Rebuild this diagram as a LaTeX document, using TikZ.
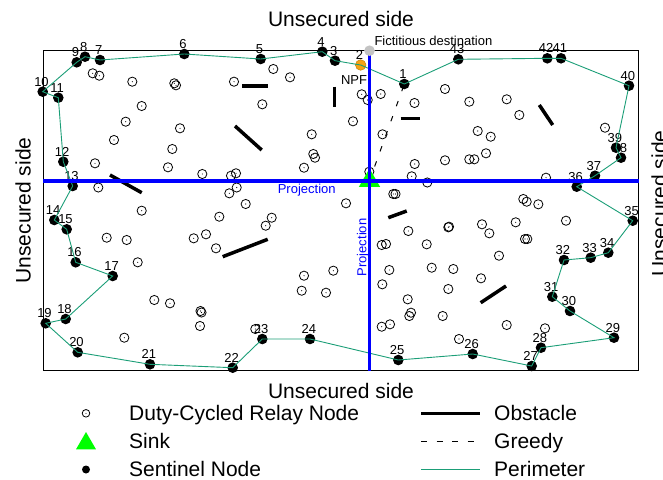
\documentclass[tikz,border=0pt]{standalone}
\usepackage{fontspec}
\setmainfont{Liberation Sans}
\usetikzlibrary{shapes.geometric}
\definecolor{perimcol}{RGB}{27,158,119}
\definecolor{npfcol}{RGB}{245,162,20}
\definecolor{fictcol}{RGB}{195,195,195}
\definecolor{sinkcol}{RGB}{0,255,0}
\begin{document}
\begin{tikzpicture}[x=1pt,y=-1pt,
  relay/.style={circle,draw,line width=0.8pt,minimum size=9.2pt,inner sep=0pt,
    path picture={\fill (path picture bounding box.center) circle[radius=0.55pt];}},
  sent/.style={circle,fill=black,minimum size=10.6pt,inner sep=0pt},
  num/.style={font=\fontsize{13}{15}\selectfont,inner sep=0pt},
  big/.style={font=\fontsize{21}{25}\selectfont,inner sep=0pt},
  small/.style={font=\fontsize{13}{15}\selectfont,inner sep=0pt},
  obst/.style={line width=3.5pt},
  perimline/.style={draw=perimcol,line width=0.9pt},
  greedyline/.style={line width=1pt,dash pattern=on 5.5pt off 10.5pt},
  proj/.style={draw=blue,line width=3.5pt},
  sinkshape/.style={regular polygon,regular polygon sides=3,fill=sinkcol,minimum size=24.6pt,inner sep=0pt}]
\useasboundingbox (0,0) rectangle (663,479);
% frame
\draw[line width=1.2pt] (43.3,50.7) rectangle (638.7,370.6);
% relay nodes
\foreach \x/\y [count=\i] in {92.7/73.3, 99.3/75.7, 132.3/81.7, 174.3/83.3, 176/85.3, 234/81.7, 273.3/69, 290/77.3, 262.3/104.3, 141.7/106, 125.7/121.7, 180/128.3, 114/140, 172.3/149, 311.7/134.3, 313.3/154, 315/157.7, 95/163.3, 168/167.3, 202.3/174, 231/175.7, 236/173.3, 304/167.7, 353/121.3, 98.3/187.5, 236.7/187.5,
229.3/193.3, 245.7/204, 219.3/216.7, 193.7/238.3, 206/234.3, 216/248.3, 265.7/225.7, 271.7/217.7, 141.7/210.7, 106.7/237.7, 126.7/240, 137.7/262.3, 154.3/300, 170/303.3, 200.5/311, 201.5/312.5, 200/326, 124.3/337.7, 255.3/329, 304/275.7, 333.3/270.7, 301.7/290.7, 326/292.7, 346/203.3,
361.7/94.3, 367.7/100, 380.7/94, 382.5/134.3, 414.5/103, 445/89, 469.3/101.7, 506.7/99.3, 519.3/115, 477.7/131, 490.7/136.7, 445/160.3, 469.3/159.3, 474.3/159.3, 486/153.3, 414.7/164, 411.7/176.3, 427.3/182.5, 546/177.7, 605/127.7, 369.3/171.7,
393.3/194, 395.5/194, 523.3/199, 526.7/201.7, 538.3/204.3, 566/220.7, 515.7/222.3, 482/224.3, 489.3/233.3, 448.3/227.3, 449/226.7, 408.3/231, 426.7/244.3, 381.7/245, 386/244, 525/239, 527.3/239, 499/255.7, 389.3/270, 431.7/267.7, 453.3/269, 481/278.3, 382.3/284.3, 448.3/289, 407.7/299.3, 411/312.7, 409.3/316, 442.7/316, 381.7/326.7, 390/324.3, 506.7/325, 545/328.3, 459/339}
  \node[relay] (r\i) at (\x,\y) {};
% obstacles
\draw[obst] (242.3,86) -- (268.3,86);
\draw[obst] (334.3,86.7) -- (334.3,107.3);
\draw[obst] (235,126) -- (261.7,150);
\draw[obst] (400.7,118.3) -- (420,118.3);
\draw[obst] (539.3,105) -- (552.7,125);
\draw[obst] (110,175) -- (141.7,192.7);
\draw[obst] (222.7,256.7) -- (267.7,239.3);
\draw[obst] (388.3,217.7) -- (406.7,211);
\draw[obst] (480.7,302.7) -- (506,286);
% sentinel nodes
\node[num] (l1) at (403.1,74) {1};
\node[sent] (s1) at (404.3,84) {};
\node[num] (l2) at (359.5,55) {2};
\node[circle,fill=npfcol,draw=npfcol!80!black,line width=0.5pt,minimum size=10.6pt,inner sep=0pt] (s2) at (360.7,65) {};
\foreach \n/\x/\y in {3/335/60.7, 4/322.3/51.7, 5/260.7/59, 6/184.3/54, 7/100/60, 8/85/56.7, 9/76.7/62.3, 10/42.7/91.7, 11/58.3/97.7, 12/63.3/161.7, 13/72.7/186, 14/54.3/220, 15/66.7/229.3, 16/75.7/262.3, 17/112.7/276, 18/65.7/319, 19/45.7/323.3, 20/77.7/352.3, 21/150/364.3, 22/232.7/367.7, 23/262.3/339, 24/310/339, 25/398.3/360, 26/472.7/354, 27/531.7/366, 28/541/347.7, 29/614/337.7, 30/570/311, 31/552.3/296.7, 32/564/260, 33/590.7/257.7, 34/608.3/252.7, 35/632.7/220.7, 36/576.7/186.7, 37/595/175.7, 38/621/157.7, 39/616/147.7, 40/629/85.7, 41/561/58.3, 42/547.3/58.3, 43/458.3/59.3}
{
  \node[num] (l\n) at (\x-1.2,\y-10) {\n};
  \node[sent] (s\n) at (\x,\y) {};
}
% perimeter
\draw[perimline] (s3.center) -- (s2.center) -- (s1.center) -- (s43.center) -- (s42.center) -- (s41.center) -- (s40.center) -- (s39.center) -- (s38.center) -- (s37.center) -- (s36.center) -- (s35.center) -- (s34.center) -- (s33.center) -- (s32.center) -- (s31.center) -- (s30.center) -- (s29.center) -- (s28.center) -- (s27.center) -- (s26.center) -- (s25.center) -- (s24.center) -- (s23.center) -- (s22.center) -- (s21.center) -- (s20.center) -- (s19.center) -- (s18.center) -- (s17.center) -- (s16.center) -- (s15.center) -- (s14.center) -- (s13.center) -- (s12.center) -- (s11.center) -- (s10.center) -- (s9.center) -- (s8.center) -- (s7.center) -- (s6.center) -- (s5.center) -- (s4.center) -- (s3.center);
% greedy
\coordinate (sinkc) at (369.5,180.8);
\draw[greedyline,dash phase=0.75pt] (sinkc) -- (s1.center);
\node[sinkshape] (sink) at (sinkc) {};
% projection lines
\coordinate (pl) at (43.3,181.2);
\coordinate (pr) at (638.7,181.2);
\coordinate (pt) at (369.5,50.7);
\coordinate (pb) at (369.5,370.6);
\draw[proj] (pl) -- (pr);
\draw[proj] (pt) -- (pb);
\node[circle,fill=fictcol,minimum size=10.6pt,inner sep=0pt] (fict) at (pt) {};
% texts
\node[small,anchor=base west] (tfict) at (374.3,45.5) {Fictitious destination};
\node[small,anchor=base] (tnpf) at (354,84.3) {NPF};
\node[small,anchor=base,text=blue] (tproj1) at (306.7,193) {Projection};
\node[small,anchor=base,rotate=90,text=blue] (tproj2) at (366.3,247.5) {Projection};
\node[big,anchor=base] (ttop) at (341,26) {Unsecured side};
\node[big,anchor=base] (tbot) at (341,398.5) {Unsecured side};
\node[big,anchor=base,rotate=90] (tleft) at (30.5,210.5) {Unsecured side};
\node[big,anchor=base,rotate=90] (tright) at (666.5,203.5) {Unsecured side};
% legend
\node[relay,minimum size=7.6pt] (lgr) at (86,413.3) {};
\node[sinkshape,minimum size=23pt] (lgs) at (86,443.5) {};
\node[sent,minimum size=8pt] (lgd) at (86,469.5) {};
\node[big,anchor=base west] (lt1) at (129,420.5) {Duty-Cycled Relay Node};
\node[big,anchor=base west] (lt2) at (129,448) {Sink};
\node[big,anchor=base west] (lt3) at (129,476.5) {Sentinel Node};
\coordinate (o1) at (421,413.3); \coordinate (o2) at (480,413.3);
\coordinate (g1) at (421,441.3); \coordinate (g2) at (480,441.3);
\coordinate (p1) at (421,469.3); \coordinate (p2) at (480,469.3);
\draw[obst] (o1) -- (o2);
\draw[line width=1pt,dash pattern=on 6pt off 9.5pt] (g1) -- (g2);
\draw[perimline] (p1) -- (p2);
\node[big,anchor=base west] (lt4) at (494,420.5) {Obstacle};
\node[big,anchor=base west] (lt5) at (494,448) {Greedy};
\node[big,anchor=base west] (lt6) at (494,476.5) {Perimeter};
\end{tikzpicture}
\end{document}
